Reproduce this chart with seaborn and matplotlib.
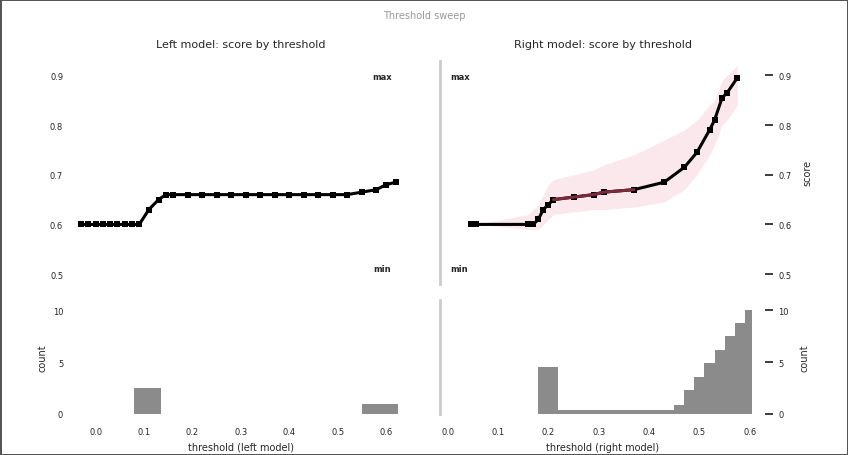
import numpy as np
import pandas as pd
import seaborn as sns
import matplotlib.pyplot as plt

# upper-left curve
left_x = [-0.3, -0.15, 0.0, 0.15, 0.3, 0.45, 0.6, 0.75, 0.9, 1.1, 1.3, 1.45,
          1.6, 1.9, 2.2, 2.5, 2.8, 3.1, 3.4, 3.7, 4.0, 4.3, 4.6, 4.9, 5.2,
          5.5, 5.8, 6.0, 6.2]
left_y = [0.60, 0.60, 0.60, 0.60, 0.60, 0.60, 0.60, 0.60, 0.60, 0.63, 0.65,
          0.66, 0.66, 0.66, 0.66, 0.66, 0.66, 0.66, 0.66, 0.66, 0.66, 0.66,
          0.66, 0.66, 0.66, 0.665, 0.67, 0.68, 0.685]

# upper-right curve with band
right_x = [0.47, 0.57, 1.6, 1.7, 1.8, 1.9, 2.0, 2.1, 2.5, 2.9, 3.1, 3.7,
           4.3, 4.7, 4.95, 5.2, 5.3, 5.45, 5.55, 5.75]
right_y = [0.60, 0.60, 0.60, 0.60, 0.61, 0.63, 0.64, 0.65, 0.655, 0.66,
           0.665, 0.67, 0.685, 0.715, 0.745, 0.79, 0.81, 0.855, 0.865, 0.895]
band_lo = [0.60, 0.60, 0.59, 0.59, 0.59, 0.60, 0.61, 0.62, 0.625, 0.63,
           0.63, 0.635, 0.645, 0.67, 0.70, 0.74, 0.76, 0.80, 0.81, 0.84]
band_hi = [0.60, 0.60, 0.62, 0.63, 0.64, 0.66, 0.68, 0.69, 0.70, 0.71,
           0.72, 0.74, 0.77, 0.79, 0.81, 0.84, 0.85, 0.89, 0.90, 0.92]
red_from = 7  # index where the red segment starts

# lower histograms: bin edges and counts
left_bins = [0.8, 1.35, 5.5, 6.25]
left_counts = [2.5, 0.0, 1.0]
right_bins = [1.8, 2.2, 2.6, 3.0, 3.4, 3.8, 4.2, 4.5, 4.7, 4.9, 5.1, 5.3,
              5.5, 5.7, 5.9, 6.05]
right_counts = [4.5, 0.4, 0.4, 0.4, 0.4, 0.4, 0.4, 0.9, 2.3, 3.6, 4.9,
                6.2, 7.5, 8.8, 10.0]

x_ticks = [0, 1, 2, 3, 4, 5, 6]
x_ticklabels = ["0.0", "0.1", "0.2", "0.3", "0.4", "0.5", "0.6"]
y_ticks = [0.5, 0.6, 0.7, 0.8, 0.9]
h_ticks = [0, 5, 10]

sns.set_theme(style="white", font_scale=0.55)
plt.rcParams['font.family'] = ['DejaVu Sans']

fig = plt.figure(figsize=(8.48, 4.56), dpi=100, edgecolor="#555555", linewidth=2)

ax_ul = fig.add_axes([0.09, 0.375, 0.388, 0.49])
ax_ll = fig.add_axes([0.09, 0.09, 0.388, 0.25], sharex=ax_ul)
ax_ur = fig.add_axes([0.519, 0.375, 0.383, 0.49])
ax_lr = fig.add_axes([0.519, 0.09, 0.383, 0.25], sharex=ax_ur)

# upper left
sns.lineplot(x=left_x, y=left_y, ax=ax_ul, color="black", marker="s",
             markersize=4.5, linewidth=2.2, markeredgewidth=0)
ax_ul.set_ylim(0.48, 0.93)
ax_ul.set_yticks(y_ticks)
ax_ul.text(0.93, 0.95, "max", transform=ax_ul.transAxes, fontsize=6,
           fontweight="bold", ha="center", va="top")
ax_ul.text(0.93, 0.05, "min", transform=ax_ul.transAxes, fontsize=6,
           fontweight="bold", ha="center", va="bottom")
ax_ul.set_ylabel("")
ax_ul.tick_params(labelbottom=False)

# upper right
ax_ur.fill_between(right_x, band_lo, band_hi, color="#f7c6d0", alpha=0.4, linewidth=0)
sns.lineplot(x=right_x, y=right_y, ax=ax_ur, color="black", marker="s",
             markersize=4.5, linewidth=2.2, markeredgewidth=0)
sns.lineplot(x=right_x[red_from:red_from + 5], y=right_y[red_from:red_from + 5],
             ax=ax_ur, color="#7a2a3a", linewidth=2.2)
ax_ur.set_ylim(0.48, 0.93)
ax_ur.set_yticks(y_ticks)
ax_ur.yaxis.tick_right()
ax_ur.yaxis.set_label_position("right")
ax_ur.set_ylabel("score", fontsize=7, labelpad=8)
ax_ur.text(0.03, 0.95, "max", transform=ax_ur.transAxes, fontsize=6,
           fontweight="bold", ha="left", va="top")
ax_ur.text(0.03, 0.05, "min", transform=ax_ur.transAxes, fontsize=6,
           fontweight="bold", ha="left", va="bottom")
ax_ur.tick_params(labelbottom=False)

# lower left
df_l = pd.DataFrame({"x": [(a + b) / 2 for a, b in zip(left_bins[:-1], left_bins[1:])],
                     "w": left_counts})
sns.histplot(data=df_l, x="x", weights="w", bins=left_bins, ax=ax_ll,
             color="#7f7f7f", alpha=0.9, linewidth=0)
ax_ll.set_ylim(0, 11)
ax_ll.set_yticks(h_ticks)
ax_ll.set_ylabel("count", fontsize=7)
ax_ll.set_xlim(-0.4, 6.4)
ax_ll.set_xticks(x_ticks)
ax_ll.set_xticklabels(x_ticklabels)
ax_ll.set_xlabel("threshold (left model)", fontsize=7)

# lower right
df_r = pd.DataFrame({"x": [(a + b) / 2 for a, b in zip(right_bins[:-1], right_bins[1:])],
                     "w": right_counts})
sns.histplot(data=df_r, x="x", weights="w", bins=right_bins, ax=ax_lr,
             color="#7f7f7f", alpha=0.9, linewidth=0)
ax_lr.set_ylim(0, 11)
ax_lr.set_yticks(h_ticks)
ax_lr.yaxis.tick_right()
ax_lr.yaxis.set_label_position("right")
ax_lr.set_ylabel("count", fontsize=7, labelpad=8)
ax_lr.set_xlim(-0.15, 6.3)
ax_lr.set_xticks(x_ticks)
ax_lr.set_xticklabels(x_ticklabels)
ax_lr.set_xlabel("threshold (right model)", fontsize=7)

for ax in (ax_ul, ax_ll, ax_ur, ax_lr):
    for s in ax.spines.values():
        s.set_visible(False)
for ax in (ax_ur, ax_lr):
    ax.spines["left"].set_visible(True)
    ax.spines["left"].set_color("#cccccc")
    ax.spines["left"].set_linewidth(2)

ax_ul.set_title("Left model: score by threshold", fontsize=8, pad=10)
ax_ur.set_title("Right model: score by threshold", fontsize=8, pad=10)
fig.suptitle("Threshold sweep", fontsize=7, color="#999999", y=0.975)

plt.savefig("out.png", dpi=100)
